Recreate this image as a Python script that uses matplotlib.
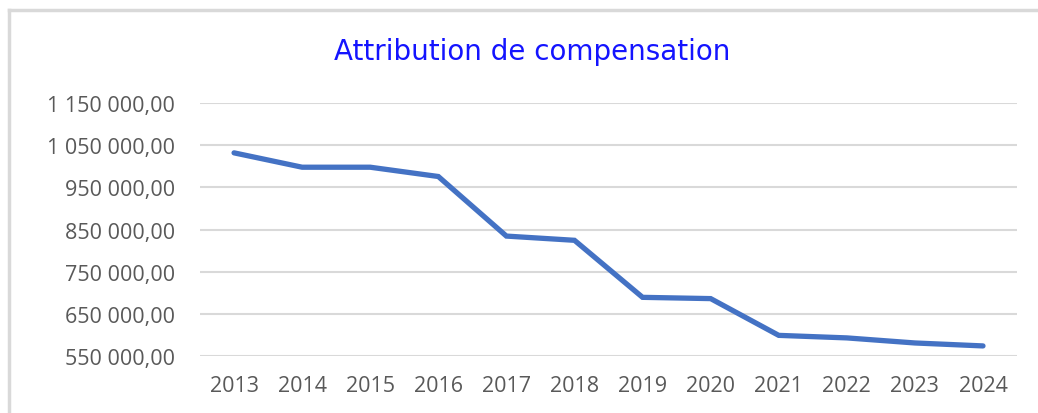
#!/usr/bin/env python3
"""Line chart: Attribution de compensation, 2013-2024."""

import matplotlib

matplotlib.use("Agg")
import matplotlib.pyplot as plt
from matplotlib.lines import Line2D
from matplotlib.ticker import FuncFormatter

years = ["2013", "2014", "2015", "2016", "2017", "2018",
         "2019", "2020", "2021", "2022", "2023", "2024"]
values = [1032000, 998000, 998000, 976000, 835000, 825000,
          690000, 687000, 600000, 594000, 582000, 575000]
y_ticks = [550000, 650000, 750000, 850000, 950000, 1050000, 1150000]

TEXT_GREY = "#595959"
GRID_GREY = "#d9d9d9"
LINE_BLUE = "#4472C4"


def fr_number(v, _pos=None):
    s = f"{v:,.2f}"
    return s.replace(",", " ").replace(".", ",")


fig = plt.figure(figsize=(10.38, 4.14), dpi=100)
ax = fig.add_axes([0.1927, 0.1365, 0.7871, 0.6123])

x = list(range(len(years)))
ax.plot(x, values, color=LINE_BLUE, linewidth=3.8, solid_capstyle="round",
        solid_joinstyle="miter")

ax.set_xlim(-0.5, len(years) - 0.5)
ax.set_ylim(y_ticks[0], y_ticks[-1])
ax.set_yticks(y_ticks)
ax.yaxis.set_major_formatter(FuncFormatter(fr_number))
ax.set_xticks(x)
ax.set_xticklabels(years)

ax.grid(axis="y", color=GRID_GREY, linewidth=1.5)
ax.set_axisbelow(True)
for side in ("top", "right", "left", "bottom"):
    ax.spines[side].set_visible(False)
ax.tick_params(axis="both", length=0, labelsize=15.5, labelcolor=TEXT_GREY)
ax.tick_params(axis="y", pad=18)
ax.tick_params(axis="x", pad=13)
for lbl in ax.get_xticklabels() + ax.get_yticklabels():
    lbl.set_fontfamily("Open Sans")

fig.text(0.513, 0.875, "Attribution de compensation", color="#1414ff",
         fontsize=20, ha="center", va="center", family="DejaVu Sans")

# chart frame (left and top edges visible in the crop)
fig.add_artist(Line2D([0.0087, 0.0087], [0.0, 0.973], transform=fig.transFigure,
                      color=GRID_GREY, linewidth=2.5))
fig.add_artist(Line2D([0.0087, 1.0], [0.973, 0.973], transform=fig.transFigure,
                      color=GRID_GREY, linewidth=2.5))

fig.savefig("out.png", dpi=100)
